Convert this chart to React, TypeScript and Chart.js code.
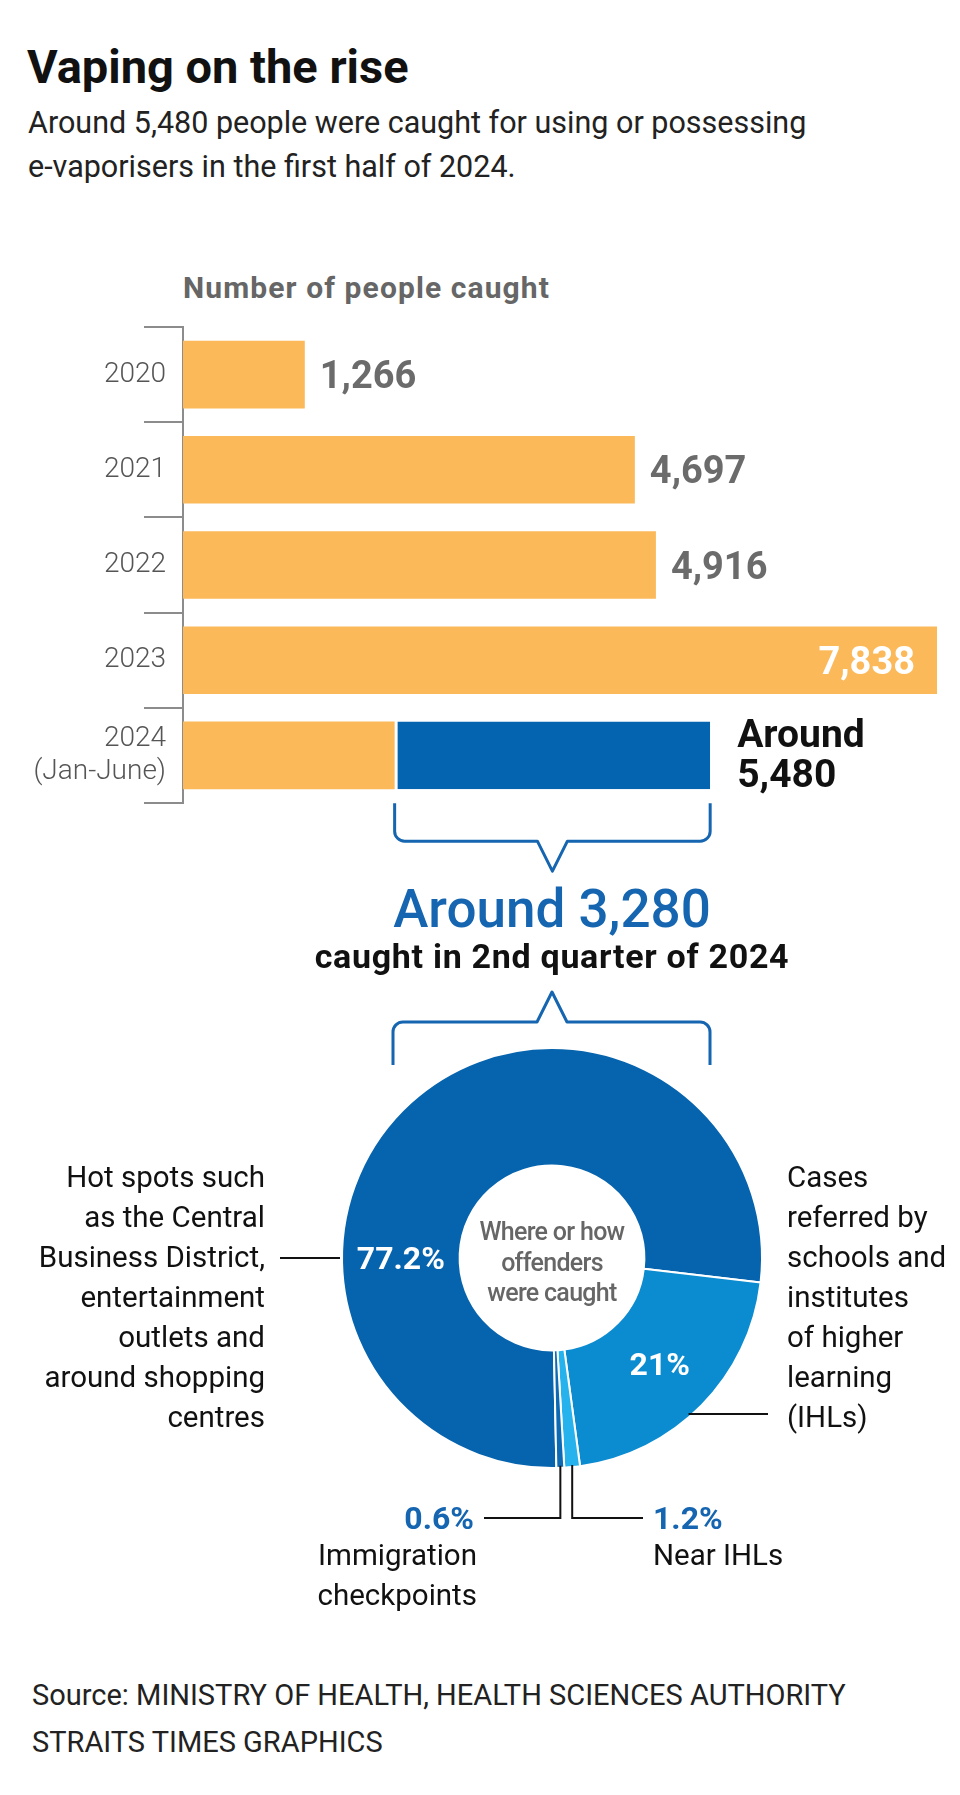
import React, { useEffect, useRef } from 'react';
import { Chart, registerables } from 'chart.js';

Chart.register(...registerables);

const FONT = 'Roboto, "Noto Sans", sans-serif';

// ---- Bar chart data ----
const yearLabels: (string | string[])[] = ['2020', '2021', '2022', '2023', ['2024', '(Jan-June)']];
const firstPeriod = [1266, 4697, 4916, 7838, 2200]; // full year; Jan-Mar for 2024
const secondQuarter: (number | null)[] = [null, null, null, null, 3280]; // Apr-Jun 2024
const isApprox = [false, false, false, false, true];

// ---- Doughnut data ----
const placeLines: string[][] = [
  ['Hot spots such', 'as the Central', 'Business District,', 'entertainment', 'outlets and', 'around shopping', 'centres'],
  ['Cases', 'referred by', 'schools and', 'institutes', 'of higher', 'learning', '(IHLs)'],
  ['Near IHLs'],
  ['Immigration', 'checkpoints'],
];
const placeShares = [77.2, 21, 1.2, 0.6];
const placeColors = ['#0663ad', '#0b8bd0', '#26b2ec', '#0c69b3'];

const BLUE_TEXT = '#1565b0';

const totals = firstPeriod.map((v, i) => v + (secondQuarter[i] || 0));
const fmt = (n: number) => n.toLocaleString('en-US');

const barLabelPlugin = {
  id: 'barLabels',
  afterDatasetsDraw(chart: any) {
    const ctx = chart.ctx as CanvasRenderingContext2D;
    const xs = chart.scales.x;
    const meta0 = chart.getDatasetMeta(0);
    ctx.save();
    ctx.textBaseline = 'alphabetic';
    totals.forEach((total, i) => {
      const bar = meta0.data[i];
      const y = bar.y;
      const end = xs.getPixelForValue(total);
      const text = fmt(total);
      if (isApprox[i]) {
        ctx.font = `700 39px ${FONT}`;
        ctx.fillStyle = '#111';
        ctx.textAlign = 'left';
        ctx.fillText('Around', end + 27, y - 8);
        ctx.fillText(text, end + 27, y + 32);
      } else {
        ctx.font = `700 38px ${FONT}`;
        const w = ctx.measureText(text).width;
        if (end + 15 + w > chart.width) {
          ctx.fillStyle = '#ffffff';
          ctx.textAlign = 'right';
          ctx.fillText(text, end - 22, y + 13.5);
        } else {
          ctx.fillStyle = '#6b6b6b';
          ctx.textAlign = 'left';
          ctx.fillText(text, end + 15, y + 13.5);
        }
      }
    });
    // bracket under the 2nd-quarter segment
    const idx = secondQuarter.findIndex((v) => v != null);
    if (idx >= 0) {
      const bar = meta0.data[idx];
      const x1 = xs.getPixelForValue(firstPeriod[idx]);
      const x2 = xs.getPixelForValue(totals[idx]);
      const yTop = bar.y + bar.height / 2 + 14;
      const yH = yTop + 38;
      const yTip = yH + 30;
      const mid = (x1 + x2) / 2;
      const r = 10;
      ctx.beginPath();
      ctx.moveTo(x1, yTop);
      ctx.lineTo(x1, yH - r);
      ctx.arcTo(x1, yH, x1 + r, yH, r);
      ctx.lineTo(mid - 15, yH);
      ctx.lineTo(mid, yTip);
      ctx.lineTo(mid + 15, yH);
      ctx.lineTo(x2 - r, yH);
      ctx.arcTo(x2, yH, x2, yH - r, r);
      ctx.lineTo(x2, yTop);
      ctx.strokeStyle = BLUE_TEXT;
      ctx.lineWidth = 3;
      ctx.lineJoin = 'round';
      ctx.stroke();
    }
    ctx.restore();
  },
};

const donutPlugin = {
  id: 'donutLabels',
  afterDatasetsDraw(chart: any) {
    const ctx = chart.ctx as CanvasRenderingContext2D;
    const arcs = chart.getDatasetMeta(0).data as any[];
    const { x: cx, y: cy, outerRadius: R, innerRadius: r0 } = arcs[0];
    ctx.save();
    ctx.strokeStyle = '#111';
    ctx.lineWidth = 2;
    ctx.font = `700 32px ${FONT}`;
    placeShares.forEach((v, i) => {
      const a = arcs[i];
      const m = (a.startAngle + a.endAngle) / 2;
      const text = `${v}%`;
      if (v >= 50) {
        ctx.fillStyle = '#ffffff';
        ctx.textAlign = 'center';
        ctx.fillText(text, cx - (R + r0) / 2, cy + 11.3);
        ctx.beginPath();
        ctx.moveTo(cx - R - 2, cy);
        ctx.lineTo(cx - R - 62, cy);
        ctx.stroke();
      } else if (v >= 10) {
        const rm = (R + r0) / 2;
        ctx.fillStyle = '#ffffff';
        ctx.textAlign = 'center';
        ctx.fillText(text, cx + Math.cos(m) * rm, cy + Math.sin(m) * rm + 11.3);
        const dy = 0.743 * R;
        const xs = cx + Math.sqrt(R * R - dy * dy) - 4;
        ctx.beginPath();
        ctx.moveTo(xs, cy + dy);
        ctx.lineTo(cx + 216, cy + dy);
        ctx.stroke();
      } else {
        const x = cx + Math.cos(m) * R;
        const y0 = cy + Math.sin(m) * R - 2;
        const yl = cy + 260;
        const side = x > cx + 15 ? 1 : -1;
        const xe = side > 0 ? cx + 91 : cx - 68;
        ctx.beginPath();
        ctx.moveTo(x, y0);
        ctx.lineTo(x, yl);
        ctx.lineTo(xe, yl);
        ctx.stroke();
        ctx.fillStyle = BLUE_TEXT;
        ctx.textAlign = side > 0 ? 'left' : 'right';
        ctx.fillText(text, xe + side * 10, yl + 11.3);
      }
    });
    // bracket above the doughnut
    const x1 = cx - 159;
    const x2 = cx + 158;
    const yH = cy - 236;
    const yTip = cy - 266;
    const yEnd = cy - 193;
    const r = 10;
    ctx.beginPath();
    ctx.moveTo(x1, yEnd);
    ctx.lineTo(x1, yH + r);
    ctx.arcTo(x1, yH, x1 + r, yH, r);
    ctx.lineTo(cx - 15, yH);
    ctx.lineTo(cx, yTip);
    ctx.lineTo(cx + 15, yH);
    ctx.lineTo(x2 - r, yH);
    ctx.arcTo(x2, yH, x2, yH + r, r);
    ctx.lineTo(x2, yEnd);
    ctx.strokeStyle = BLUE_TEXT;
    ctx.lineWidth = 3;
    ctx.lineJoin = 'round';
    ctx.stroke();
    ctx.restore();
  },
};

function BarChart() {
  const ref = useRef<HTMLCanvasElement>(null);
  useEffect(() => {
    const chart = new Chart(ref.current as HTMLCanvasElement, {
      type: 'bar',
      data: {
        labels: yearLabels as any,
        datasets: [
          { data: firstPeriod, backgroundColor: '#fbb95a', borderWidth: 0 },
          {
            data: secondQuarter as any,
            backgroundColor: '#0564af',
            borderColor: '#ffffff',
            borderWidth: { left: 3, right: 0, top: 0, bottom: 0 } as any,
            borderSkipped: false,
          },
        ],
      },
      options: {
        indexAxis: 'y',
        responsive: false,
        animation: false,
        events: [],
        layout: { padding: { left: 0, right: 23, top: 27, bottom: 87 } },
        datasets: { bar: { categoryPercentage: 1, barPercentage: 0.71 } },
        scales: {
          x: { stacked: true, display: false, min: 0, max: Math.max(...totals) },
          y: {
            stacked: true,
            afterFit: (s: any) => {
              s.width = 183;
            },
            grid: {
              drawOnChartArea: false,
              drawTicks: true,
              tickLength: 39,
              color: '#8c8c8c',
              lineWidth: 2,
              offset: true,
            },
            border: { display: true, color: '#8c8c8c', width: 2 },
            ticks: {
              padding: -22,
              color: '#555555',
              font: { family: FONT, size: 28, weight: 300 as any, lineHeight: 1.18 },
            },
          },
        },
        plugins: { legend: { display: false }, tooltip: { enabled: false } },
      } as any,
      plugins: [barLabelPlugin],
    });
    return () => chart.destroy();
  }, []);
  return (
    <canvas
      ref={ref}
      width={960}
      height={590}
      style={{ position: 'absolute', left: 0, top: 300, width: 960, height: 590 }}
    />
  );
}

function DonutChart() {
  const ref = useRef<HTMLCanvasElement>(null);
  useEffect(() => {
    const chart = new Chart(ref.current as HTMLCanvasElement, {
      type: 'doughnut',
      data: {
        labels: placeLines.map((l) => l.join(' ')),
        datasets: [{ data: placeShares, backgroundColor: placeColors, borderColor: '#ffffff', borderWidth: 2 }],
      },
      options: {
        responsive: false,
        animation: false,
        events: [],
        cutout: '44%',
        rotation: 178.8,
        layout: { padding: { left: 341, right: 197, top: 67, bottom: 171 } },
        plugins: { legend: { display: false }, tooltip: { enabled: false } },
      } as any,
      plugins: [donutPlugin],
    });
    return () => chart.destroy();
  }, []);
  return (
    <canvas
      ref={ref}
      width={960}
      height={660}
      style={{ position: 'absolute', left: 0, top: 980, width: 960, height: 660 }}
    />
  );
}

const abs = (s: React.CSSProperties): React.CSSProperties => ({ position: 'absolute', whiteSpace: 'nowrap', margin: 0, ...s });

export default function App() {
  const q2 = secondQuarter.find((v) => v != null) as number;
  const descStyle: React.CSSProperties = { fontSize: 29.5, lineHeight: '40px', color: '#111' };
  return (
    <div
      style={{
        position: 'absolute',
        left: 0,
        top: 0,
        width: 960,
        height: 1795,
        background: '#ffffff',
        fontFamily: FONT,
        overflow: 'hidden',
      }}
    >
      <div style={abs({ left: 27, top: 43, fontSize: 47, lineHeight: '47px', fontWeight: 700, color: '#111' })}>
        Vaping on the rise
      </div>
      <div style={abs({ left: 28, top: 101, fontSize: 30.5, lineHeight: '44px', fontWeight: 400, color: '#222' })}>
        Around 5,480 people were caught for using or possessing
        <br />
        e-vaporisers in the first half of 2024.
      </div>
      <div style={abs({ left: 183, top: 273, fontSize: 30, lineHeight: '30px', fontWeight: 700, color: '#666', letterSpacing: '1.1px' })}>
        Number of people caught
      </div>

      <BarChart />

      <div style={abs({ left: 252, width: 600, textAlign: 'center', top: 883, fontSize: 53, lineHeight: '53px', fontWeight: 500, color: BLUE_TEXT })}>
        Around {fmt(q2)}
      </div>
      <div style={abs({ left: 152, width: 800, textAlign: 'center', top: 939, fontSize: 34, lineHeight: '34px', fontWeight: 700, color: '#111', letterSpacing: '0.7px' })}>
        caught in 2nd quarter of 2024
      </div>

      <DonutChart />

      <div style={abs({ left: 452, width: 200, textAlign: 'center', top: 1217, fontSize: 25, lineHeight: '30.5px', fontWeight: 500, color: '#666', letterSpacing: '-0.7px' })}>
        Where or how
        <br />
        offenders
        <br />
        were caught
      </div>

      <div style={abs({ right: 960 - 265, top: 1157, textAlign: 'right', ...descStyle })}>
        {placeLines[0].map((l, i) => (
          <div key={i}>{l}</div>
        ))}
      </div>
      <div style={abs({ left: 787, top: 1157, textAlign: 'left', ...descStyle })}>
        {placeLines[1].map((l, i) => (
          <div key={i}>{l}</div>
        ))}
      </div>
      <div style={abs({ left: 653, top: 1535, textAlign: 'left', ...descStyle })}>
        {placeLines[2].map((l, i) => (
          <div key={i}>{l}</div>
        ))}
      </div>
      <div style={abs({ right: 960 - 477, top: 1535, textAlign: 'right', ...descStyle })}>
        {placeLines[3].map((l, i) => (
          <div key={i}>{l}</div>
        ))}
      </div>

      <div style={abs({ left: 32, top: 1672, fontSize: 29, lineHeight: '47px', color: '#222' })}>
        Source: MINISTRY OF HEALTH, HEALTH SCIENCES AUTHORITY
        <br />
        STRAITS TIMES GRAPHICS
      </div>
    </div>
  );
}
